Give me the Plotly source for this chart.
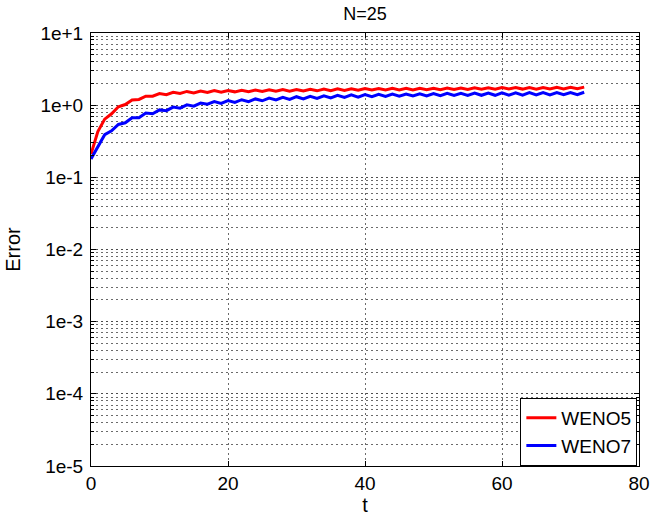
import plotly.graph_objects as go

t_values = list(range(0, 73))

weno5_error = [
    0.21, 0.43, 0.64, 0.76, 0.95, 1.02, 1.18, 1.20, 1.33, 1.33,
    1.45, 1.40, 1.51, 1.45, 1.55, 1.48, 1.57, 1.50, 1.59, 1.51,
    1.60, 1.53, 1.61, 1.54, 1.62, 1.55, 1.63, 1.56, 1.64, 1.56,
    1.65, 1.57, 1.66, 1.58, 1.67, 1.59, 1.68, 1.60, 1.69, 1.61,
    1.70, 1.62, 1.70, 1.62, 1.71, 1.63, 1.71, 1.63, 1.72, 1.64,
    1.72, 1.64, 1.73, 1.65, 1.73, 1.65, 1.74, 1.66, 1.74, 1.66,
    1.75, 1.67, 1.75, 1.67, 1.76, 1.67, 1.76, 1.68, 1.77, 1.68,
    1.77, 1.69, 1.78,
]

weno7_error = [
    0.18, 0.27, 0.39, 0.44, 0.54, 0.57, 0.67, 0.67, 0.78, 0.76,
    0.86, 0.84, 0.94, 0.91, 1.01, 0.97, 1.07, 1.03, 1.12, 1.06,
    1.16, 1.09, 1.19, 1.12, 1.22, 1.15, 1.25, 1.18, 1.28, 1.20,
    1.31, 1.22, 1.33, 1.24, 1.35, 1.26, 1.37, 1.28, 1.39, 1.29,
    1.40, 1.31, 1.41, 1.32, 1.42, 1.33, 1.43, 1.34, 1.44, 1.34,
    1.45, 1.35, 1.46, 1.36, 1.46, 1.36, 1.47, 1.37, 1.47, 1.37,
    1.48, 1.38, 1.48, 1.38, 1.49, 1.39, 1.49, 1.39, 1.50, 1.40,
    1.50, 1.40, 1.51,
]

y_tick_values = [1e-5, 1e-4, 1e-3, 1e-2, 1e-1, 1e0, 1e1]
y_tick_labels = ["1e-5", "1e-4", "1e-3", "1e-2", "1e-1", "1e+0", "1e+1"]
x_tick_values = [0, 20, 40, 60, 80]

FONT = "Liberation Sans, Arial, Helvetica, sans-serif"
GRID = "rgba(70,70,70,0.8)"
DASH = "2px,3px"

fig = go.Figure()
fig.add_trace(go.Scatter(x=t_values, y=weno5_error, mode="lines", name="WENO5",
                         line=dict(color="#ff0000", width=3)))
fig.add_trace(go.Scatter(x=t_values, y=weno7_error, mode="lines", name="WENO7",
                         line=dict(color="#0000ff", width=3)))

fig.update_layout(
    width=651, height=521,
    margin=dict(l=91, r=12, t=33, b=55),
    paper_bgcolor="white", plot_bgcolor="white",
    font=dict(family=FONT, size=19, color="black"),
    title=dict(text="N=25", x=0.5, xref="paper", y=0.985, yref="container",
               yanchor="top", font=dict(size=18)),
    legend=dict(x=0.997, y=0.0, xanchor="right", yanchor="bottom",
                bgcolor="white", bordercolor="black", borderwidth=1,
                font=dict(size=19), tracegroupgap=0, itemwidth=30),
    showlegend=True,
)

fig.update_xaxes(
    range=[0, 80], tickvals=x_tick_values, automargin=False,
    showline=True, linecolor="black", linewidth=1, mirror="ticks",
    ticks="inside", ticklen=5, tickcolor="black",
    showgrid=True, gridcolor=GRID, griddash=DASH, gridwidth=1,
    zeroline=False,
    title=dict(text="t", standoff=2, font=dict(size=20)),
    tickfont=dict(size=19),
)

fig.update_yaxes(
    type="log", range=[-5, 1], automargin=False,
    tickvals=y_tick_values, ticktext=y_tick_labels,
    showline=True, linecolor="black", linewidth=1, mirror="ticks",
    ticks="inside", ticklen=5, tickcolor="black",
    ticklabelstandoff=3,
    showgrid=True, gridcolor=GRID, griddash=DASH, gridwidth=1,
    minor=dict(dtick="D1", showgrid=True, gridcolor=GRID, griddash=DASH,
               gridwidth=1, ticks="inside", ticklen=3, tickcolor="black"),
    zeroline=False,
    title=dict(text="Error", standoff=14, font=dict(size=20)),
    tickfont=dict(size=19),
)

fig.write_html("out.html")
